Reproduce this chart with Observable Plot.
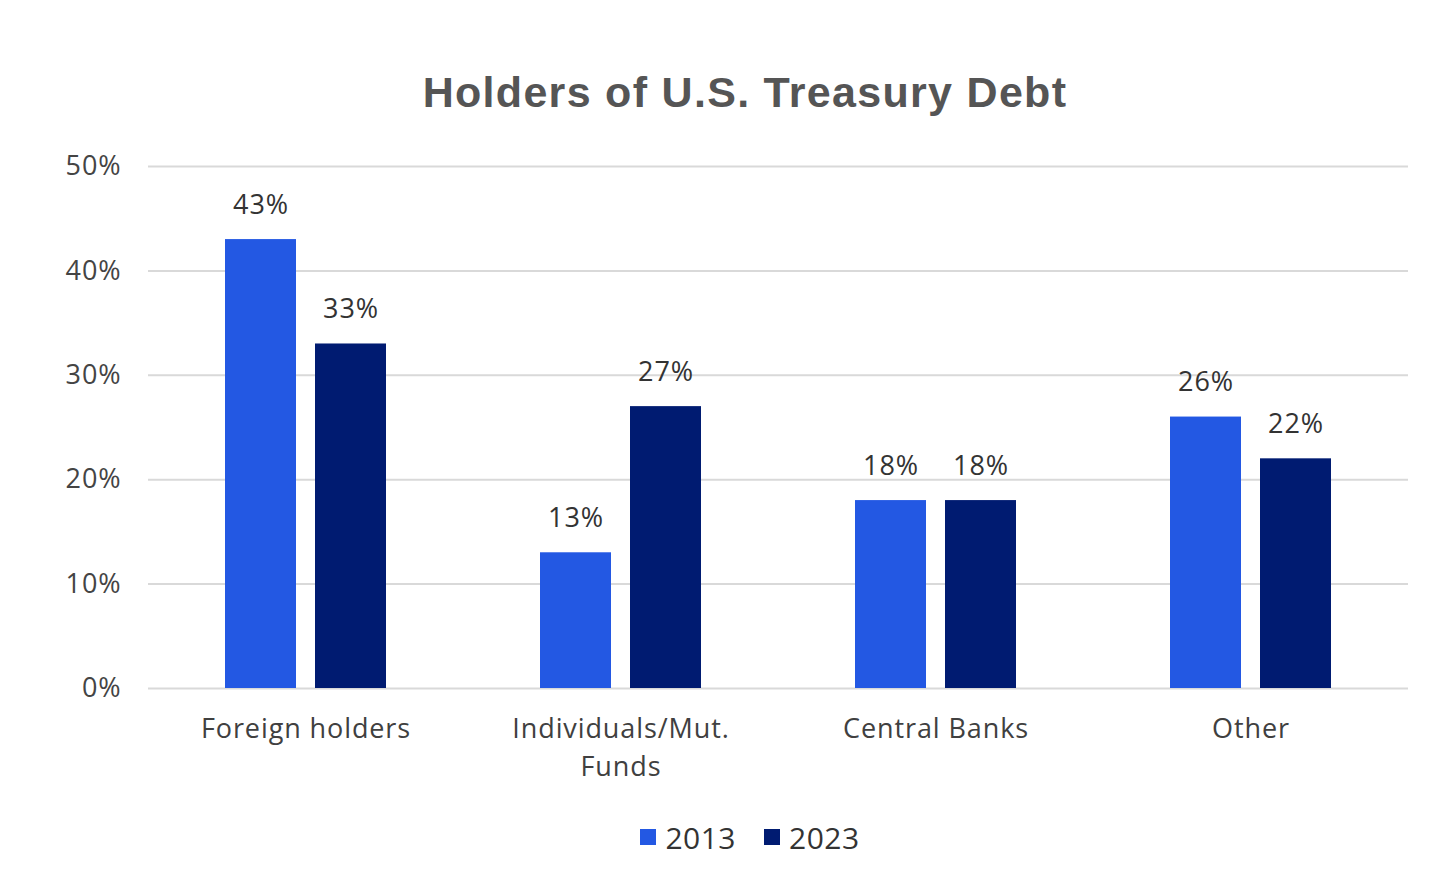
<!DOCTYPE html>
<html>
<head>
<meta charset="utf-8">
<script src="https://cdn.jsdelivr.net/npm/d3@7"></script>
<script src="https://cdn.jsdelivr.net/npm/@observablehq/plot@0.6"></script>
<style>
  html, body { margin: 0; padding: 0; background: #fff; }
  #wrap { width: 1456px; }
  #title { height: 140px; box-sizing: border-box; padding-top: 68px; padding-left: 34px; text-align: center;
    font-family: "Liberation Sans", Arial, sans-serif; font-weight: bold; font-size: 43px;
    letter-spacing: 1.3px; color: #555; line-height: 48px; }
  #legend { height: 74px; box-sizing: border-box; padding-left: 44px; display: flex; justify-content: center; align-items: center;
    font-family: "Open Sans", sans-serif; font-size: 30px; color: #333; letter-spacing: 0.5px; }
  .item { display: flex; align-items: center; margin: 0 14px; }
  .sw { width: 16px; height: 16px; margin-right: 9px; }
  svg text { font-family: "Open Sans", sans-serif; letter-spacing: 0.9px; }
</style>
</head>
<body>
<div id="wrap">
  <div id="title">Holders of U.S. Treasury Debt</div>
  <div id="chart"></div>
  <div id="legend"></div>
</div>
<script>
const categories = ["Foreign holders", "Individuals/Mut.\nFunds", "Central Banks", "Other"];
const years = ["2013", "2023"];
const values2013 = [43, 13, 18, 26];
const values2023 = [33, 27, 18, 22];
const yTicks = [0, 10, 20, 30, 40, 50];
const colors = ["#2358E3", "#001B71"];

const data = [];
categories.forEach((c, i) => {
  data.push({category: c, year: years[0], value: values2013[i]});
  data.push({category: c, year: years[1], value: values2023[i]});
});

const chart = Plot.plot({
  width: 1456,
  height: 660,
  marginTop: 26,
  marginLeft: 148,
  marginRight: 48,
  marginBottom: 112,
  fx: {domain: categories, padding: 0, label: null, axis: null},
  x: {domain: years, paddingInner: 0.211, paddingOuter: 0.855, axis: null},
  y: {domain: [0, 50], label: null},
  color: {domain: years, range: colors},
  style: {fontFamily: "'Open Sans', sans-serif", color: "#404040"},
  marks: [
    Plot.gridY(yTicks, {stroke: "#d9d9d9", strokeOpacity: 1, strokeWidth: 2}),
    Plot.axisY(yTicks, {tickSize: 0, tickPadding: 27, tickFormat: d => d + "%", fontSize: 27, fill: "#444", label: null}),
    Plot.axisFx({anchor: "bottom", tickSize: 0, tickPadding: 23, fontSize: 27, lineHeight: 1.4, fill: "#404040", label: null}),
    Plot.barY(data, {fx: "category", x: "year", y: "value", fill: "year"}),
    Plot.text(data, {fx: "category", x: "year", y: "value", text: d => d.value + "%", lineAnchor: "bottom", dy: -26, fontSize: 27, fill: "#333"})
  ]
});
document.getElementById("chart").appendChild(chart);

const legend = document.getElementById("legend");
years.forEach((y, i) => {
  const it = document.createElement("div");
  it.className = "item";
  it.innerHTML = `<span class="sw" style="background:${colors[i]}"></span><span>${y}</span>`;
  legend.appendChild(it);
});
</script>
</body>
</html>
